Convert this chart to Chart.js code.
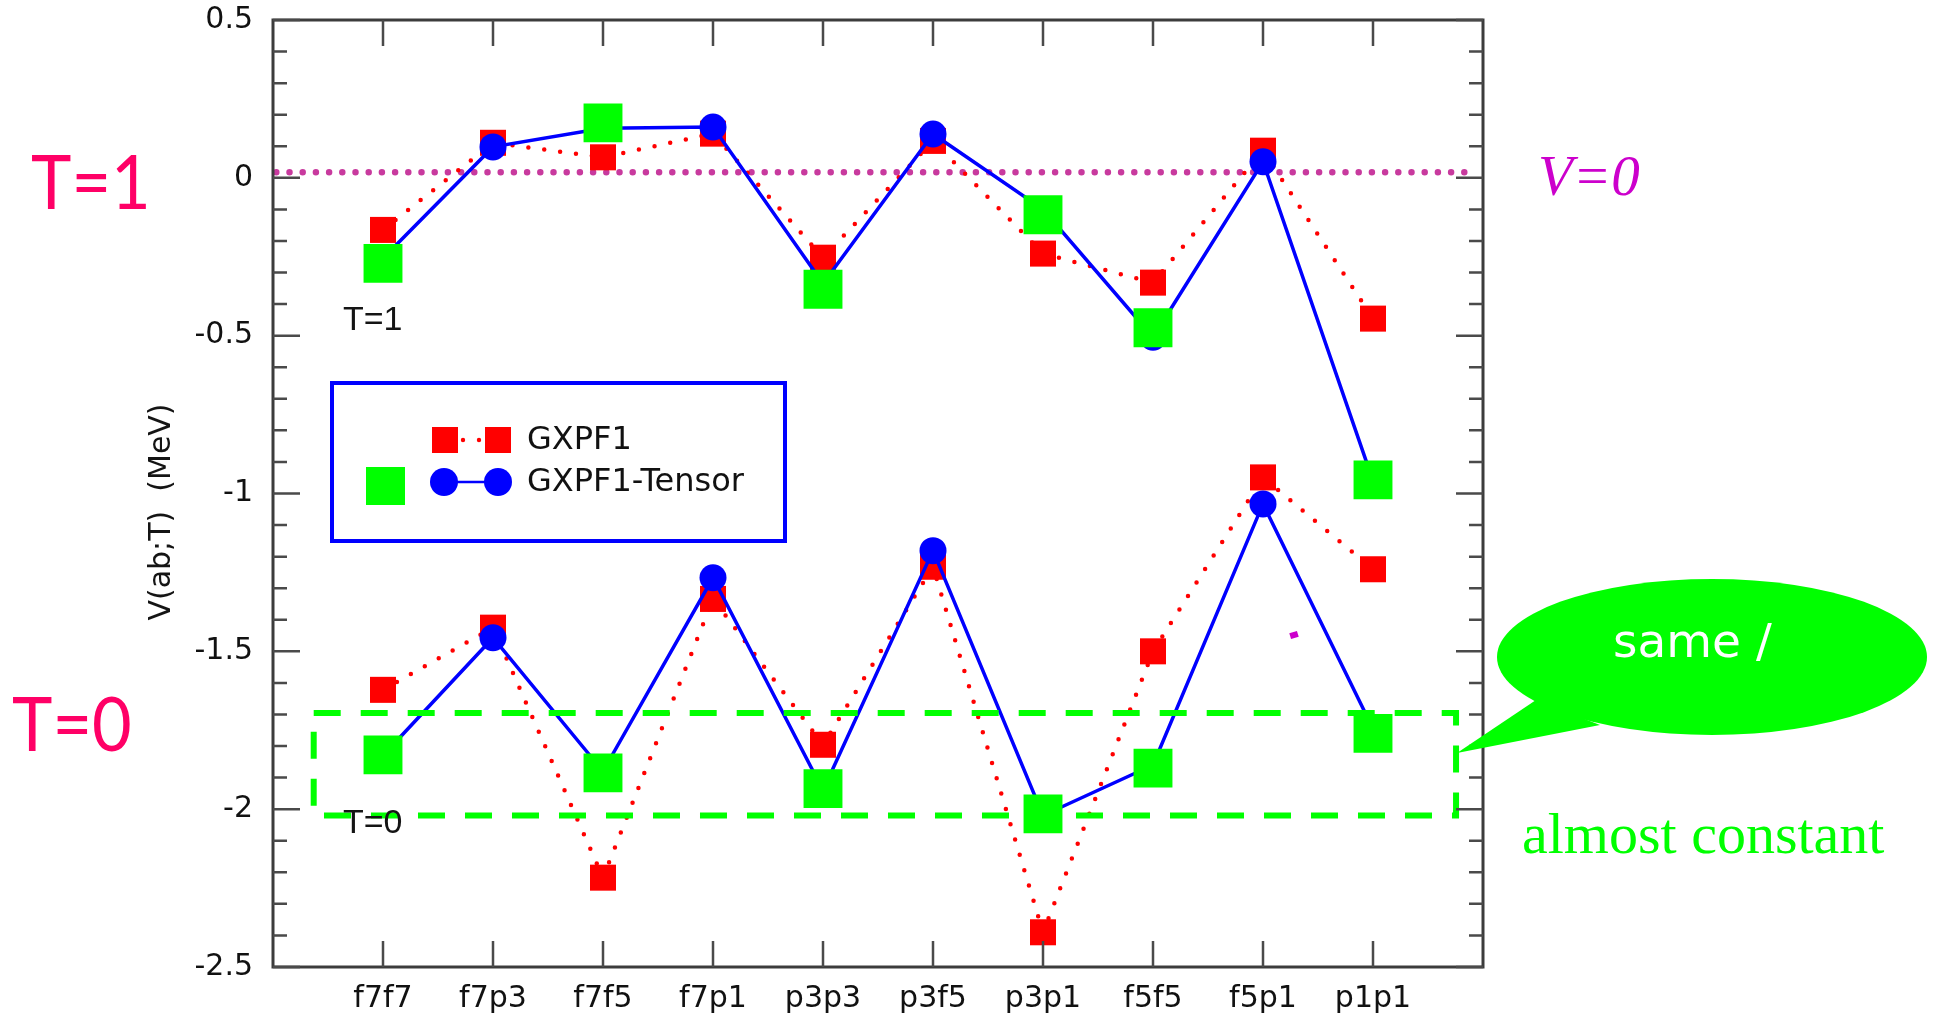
<!DOCTYPE html>
<html><head><meta charset="utf-8">
<script src="https://cdn.jsdelivr.net/npm/chart.js@4.4.1/dist/chart.umd.min.js"></script>
<style>html,body{margin:0;padding:0;background:#fff;overflow:hidden}canvas{display:block}</style>
</head><body>
<canvas id="c" width="1933" height="1018"></canvas>
<script>
// ---- data ----
const categories = ['f7f7','f7p3','f7f5','f7p1','p3p3','p3f5','p3p1','f5f5','f5p1','p1p1'];
// T=1 block
const gxpf1T1  = [-0.165, 0.111, 0.065, 0.140, -0.253, 0.117, -0.240, -0.332, 0.086, -0.446];
const tensorT1 = [-0.255, 0.098, 0.157, 0.161, -0.335, 0.139, -0.100, -0.505, 0.051, -0.960];
const greenT1  = [-0.271, null, 0.174, null, -0.353, null, -0.117, -0.475, null, -0.957];
// T=0 block
const gxpf1T0  = [-1.622, -1.425, -2.217, -1.334, -1.796, -1.232, -2.390, -1.500, -0.949, -1.240];
const tensorT0 = [-1.830, -1.457, -1.880, -1.267, -1.940, -1.181, -2.020, -1.860, -1.033, -1.745];
const greenT0  = [-1.828, null, -1.885, null, -1.935, null, -2.015, -1.870, null, -1.760];
// axis
const yTickValues = [0.5, 0, -0.5, -1, -1.5, -2, -2.5];
const yTickLabels = ['0.5', '0', '-0.5', '-1', '-1.5', '-2', '-2.5'];
// V=0 reference line (data coords)
const zeroLineX = [-0.97, 9.86];
const zeroLineY = [0.018, 0.018];
// "almost constant" highlight box (data coords)
const boxX = [-0.63, 9.755];
const boxY = [-1.695, -2.02];
// texts
const yTitle = 'V(ab;T)  (MeV)';
const legendLabels = ['GXPF1', 'GXPF1-Tensor'];

function pts(arr) {
  const out = [];
  arr.forEach((v, i) => { if (v !== null) out.push({x: i, y: v}); });
  return out;
}

const RED = '#ff0000', BLUE = '#0000ff', GREEN = '#00ff00';

const redStyle = {
  borderColor: RED, backgroundColor: RED, borderWidth: 4.5,
  borderDash: [0, 16], borderCapStyle: 'round',
  pointStyle: 'rect', pointRadius: 18.4, pointBorderWidth: 0,
  pointBackgroundColor: RED, tension: 0, order: 5
};
const blueStyle = {
  borderColor: BLUE, backgroundColor: BLUE, borderWidth: 3.5,
  pointStyle: 'circle', pointRadius: 13.5, pointBorderWidth: 0,
  pointBackgroundColor: BLUE, tension: 0, order: 4
};
const greenStyle = {
  showLine: false, backgroundColor: GREEN, borderColor: GREEN,
  pointStyle: 'rect', pointRadius: 27.5, pointBorderWidth: 0,
  pointBackgroundColor: GREEN, order: 1
};

const overlay = {
  id: 'overlay',
  afterDatasetsDraw(chart) {
    const {ctx, chartArea: a} = chart;
    const x = chart.scales.x, y = chart.scales.y;
    ctx.save();
    // green dashed box
    ctx.strokeStyle = GREEN; ctx.lineWidth = 6; ctx.setLineDash([27, 20]);
    const bx0 = x.getPixelForValue(boxX[0]), bx1 = x.getPixelForValue(boxX[1]);
    const by0 = y.getPixelForValue(boxY[0]), by1 = y.getPixelForValue(boxY[1]);
    ctx.strokeRect(bx0, by0, bx1 - bx0, by1 - by0);
    ctx.setLineDash([]);

    // frame
    ctx.strokeStyle = '#3c3c3c'; ctx.lineWidth = 3;
    ctx.strokeRect(a.left, a.top, a.right - a.left, a.bottom - a.top);
    // y ticks (major 0.5, minor 0.1), inside, both sides
    ctx.strokeStyle = '#4a4a4a'; ctx.lineWidth = 2.5;
    for (let k = -25; k <= 5; k++) {
      const py = y.getPixelForValue(k / 10);
      const L = (k % 5 === 0) ? 27 : 14;
      ctx.beginPath();
      ctx.moveTo(a.left, py); ctx.lineTo(a.left + L, py);
      ctx.moveTo(a.right, py); ctx.lineTo(a.right - L, py);
      ctx.stroke();
    }
    // x ticks, inside, top and bottom
    categories.forEach((c, i) => {
      const px = x.getPixelForValue(i);
      ctx.beginPath();
      ctx.moveTo(px, a.top); ctx.lineTo(px, a.top + 26);
      ctx.moveTo(px, a.bottom); ctx.lineTo(px, a.bottom - 26);
      ctx.stroke();
    });

    // y-axis title
    ctx.save();
    ctx.translate(162, 512); ctx.rotate(-Math.PI / 2);
    ctx.fillStyle = '#141414'; ctx.font = '30px "DejaVu Sans"';
    ctx.textAlign = 'center'; ctx.textBaseline = 'middle';
    ctx.fillText(yTitle, 0, 0);
    ctx.restore();

    // inner T labels
    ctx.fillStyle = '#141414'; ctx.font = '34px "Liberation Sans"';
    ctx.textAlign = 'left'; ctx.textBaseline = 'alphabetic';
    ctx.fillText('T=1', 343, 330);
    ctx.fillText('T=0', 343, 833);

    // legend
    ctx.strokeStyle = BLUE; ctx.lineWidth = 4;
    ctx.strokeRect(332, 383, 453, 158);
    ctx.fillStyle = RED;
    ctx.fillRect(432, 427, 26, 26); ctx.fillRect(485, 427, 26, 26);
    ctx.beginPath(); ctx.arc(463, 440, 2.2, 0, Math.PI * 2); ctx.arc(479, 440, 2.2, 0, Math.PI * 2); ctx.fill();
    ctx.strokeStyle = BLUE; ctx.lineWidth = 2.5;
    ctx.beginPath(); ctx.moveTo(444, 482); ctx.lineTo(498, 482); ctx.stroke();
    ctx.fillStyle = BLUE;
    ctx.beginPath(); ctx.arc(444, 482, 14, 0, Math.PI * 2); ctx.fill();
    ctx.beginPath(); ctx.arc(498, 482, 14, 0, Math.PI * 2); ctx.fill();
    ctx.fillStyle = GREEN; ctx.fillRect(366, 467, 39, 38);
    ctx.fillStyle = '#111111'; ctx.font = '32px "DejaVu Sans"'; ctx.textBaseline = 'middle';
    ctx.fillText(legendLabels[0], 527, 441);
    ctx.fillText(legendLabels[1], 527, 483);

    // big T labels
    ctx.textBaseline = 'alphabetic';
    ctx.fillStyle = '#ff0066'; ctx.font = '76px Lato';
    ctx.save(); ctx.translate(31, 209); ctx.scale(0.9, 1); ctx.fillText('T=1', 0, 0); ctx.restore();
    ctx.save(); ctx.translate(12, 751); ctx.scale(0.9, 1); ctx.fillText('T=0', 0, 0); ctx.restore();

    // V=0
    ctx.fillStyle = '#cc00cc'; ctx.font = 'italic 57px "Liberation Serif"';
    ctx.fillText('V=0', 1538, 195);

    // stray magenta dash
    ctx.save(); ctx.translate(1294, 635); ctx.rotate(-0.3);
    ctx.fillRect(-4, -3, 8, 6); ctx.restore();

    // speech bubble
    ctx.fillStyle = GREEN;
    ctx.beginPath(); ctx.ellipse(1712, 657, 215, 78, 0, 0, Math.PI * 2); ctx.fill();
    ctx.beginPath(); ctx.moveTo(1536, 700); ctx.lineTo(1457, 753); ctx.lineTo(1600, 725); ctx.closePath(); ctx.fill();
    ctx.fillStyle = '#ffffff'; ctx.font = '47px "DejaVu Sans"';
    ctx.fillText('same /', 1613, 657);

    // almost constant
    ctx.fillStyle = GREEN; ctx.font = '58px "Liberation Serif"';
    ctx.fillText('almost constant', 1522, 853);
    ctx.restore();
  }
};

new Chart(document.getElementById('c'), {
  type: 'line',
  data: {
    datasets: [
      {label: 'V=0', data: zeroLineX.map((v, i) => ({x: v, y: zeroLineY[i]})),
       borderColor: '#c83a9e', borderWidth: 6.5, borderDash: [0, 13.2], borderCapStyle: 'round',
       pointRadius: 0, order: 10},
      Object.assign({label: 'GXPF1 T=1', data: pts(gxpf1T1)}, redStyle),
      Object.assign({label: 'GXPF1 T=0', data: pts(gxpf1T0)}, redStyle),
      Object.assign({label: 'GXPF1-Tensor T=1', data: pts(tensorT1)}, blueStyle),
      Object.assign({label: 'GXPF1-Tensor T=0', data: pts(tensorT0)}, blueStyle),
      Object.assign({label: 'green T=1', data: pts(greenT1)}, greenStyle),
      Object.assign({label: 'green T=0', data: pts(greenT0)}, greenStyle)
    ]
  },
  options: {
    responsive: false, animation: false,
    layout: {autoPadding: false, padding: {left: 0, right: 450, top: 20, bottom: 0}},
    plugins: {legend: {display: false}, tooltip: {enabled: false}},
    scales: {
      x: {
        type: 'linear', min: -1, max: categories.length,
        grid: {display: false, drawTicks: false}, border: {display: false},
        afterFit(s) { s.height = 51; s.paddingLeft = 0; s.paddingRight = 0; },
        ticks: {
          stepSize: 1, autoSkip: false, maxRotation: 0, padding: 14,
          color: '#111111', font: {family: 'DejaVu Sans', size: 30},
          callback: (v) => (Number.isInteger(v) && v >= 0 && v < categories.length) ? categories[v] : ''
        }
      },
      y: {
        type: 'linear', min: -2.5, max: 0.5,
        grid: {display: false, drawTicks: false}, border: {display: false},
        afterFit(s) { s.width = 273; s.paddingTop = 0; s.paddingBottom = 0; },
        ticks: {
          stepSize: 0.5, padding: 20, color: '#111111',
          font: {family: 'DejaVu Sans', size: 30},
          callback: (v) => {
            const idx = yTickValues.findIndex(t => Math.abs(t - v) < 1e-6);
            return idx >= 0 ? yTickLabels[idx] : '';
          }
        }
      }
    }
  },
  plugins: [overlay]
});
</script>
</body></html>
